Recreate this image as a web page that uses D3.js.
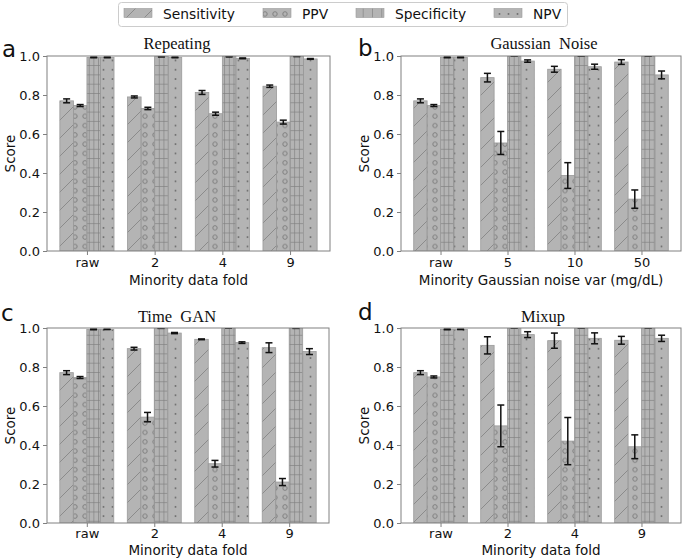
<!DOCTYPE html>
<html><head><meta charset="utf-8">
<script src="https://cdn.jsdelivr.net/npm/d3@7"></script>
<style>body{margin:0;background:#fff} svg{display:block}</style>
</head><body><svg id="chart" width="685" height="559"></svg>
<script>
// ---------- data ----------
const seriesNames = ["Sensitivity", "PPV", "Specificity", "NPV"];
const foldCategories = ["raw", "2", "4", "9"];
const noiseCategories = ["raw", "5", "10", "50"];
const yTickValues = [0, 0.2, 0.4, 0.6, 0.8, 1.0];

// a: Repeating
const repeatingSens = [0.770, 0.790, 0.813, 0.845];
const repeatingSensErr = [0.010, 0.005, 0.010, 0.006];
const repeatingPPV = [0.746, 0.731, 0.704, 0.661];
const repeatingPPVErr = [0.005, 0.006, 0.008, 0.010];
const repeatingSpec = [0.993, 0.997, 0.997, 0.999];
const repeatingSpecErr = [0.002, 0.002, 0.002, 0.002];
const repeatingNPV = [0.993, 0.993, 0.988, 0.985];
const repeatingNPVErr = [0.002, 0.002, 0.002, 0.002];

// b: Gaussian Noise
const gaussSens = [0.770, 0.889, 0.932, 0.969];
const gaussSensErr = [0.010, 0.022, 0.015, 0.012];
const gaussPPV = [0.746, 0.554, 0.387, 0.266];
const gaussPPVErr = [0.005, 0.059, 0.066, 0.047];
const gaussSpec = [0.993, 1.000, 1.000, 1.000];
const gaussSpecErr = [0.002, 0.001, 0.001, 0.001];
const gaussNPV = [0.993, 0.974, 0.945, 0.903];
const gaussNPVErr = [0.002, 0.006, 0.013, 0.020];

// c: Time GAN
const ganSens = [0.771, 0.894, 0.942, 0.899];
const ganSensErr = [0.010, 0.007, 0.002, 0.025];
const ganPPV = [0.746, 0.543, 0.304, 0.210];
const ganPPVErr = [0.005, 0.024, 0.017, 0.018];
const ganSpec = [0.993, 0.999, 1.000, 0.999];
const ganSpecErr = [0.002, 0.001, 0.001, 0.001];
const ganNPV = [0.993, 0.974, 0.925, 0.879];
const ganNPVErr = [0.001, 0.003, 0.004, 0.015];

// d: Mixup
const mixSens = [0.771, 0.911, 0.935, 0.937];
const mixSensErr = [0.010, 0.044, 0.039, 0.020];
const mixPPV = [0.749, 0.498, 0.420, 0.391];
const mixPPVErr = [0.005, 0.107, 0.121, 0.061];
const mixSpec = [0.993, 1.000, 1.000, 1.000];
const mixSpecErr = [0.002, 0.001, 0.001, 0.001];
const mixNPV = [0.993, 0.966, 0.947, 0.947];
const mixNPVErr = [0.001, 0.015, 0.028, 0.016];

// ---------- layout ----------
const panels = [
  { letter: "a", title: "Repeating", xlabel: "Minority data fold", cats: foldCategories,
    values: [repeatingSens, repeatingPPV, repeatingSpec, repeatingNPV],
    errors: [repeatingSensErr, repeatingPPVErr, repeatingSpecErr, repeatingNPVErr],
    L: 47, R: 330, T: 56, B: 251, titleX: 177, titleY: 49, letterX: 2, letterY: 57, ylabX: 15, xtickY: 267, xlabY: 285 },
  { letter: "b", title: "Gaussian  Noise", xlabel: "Minority Gaussian noise var (mg/dL)", cats: noiseCategories,
    values: [gaussSens, gaussPPV, gaussSpec, gaussNPV],
    errors: [gaussSensErr, gaussPPVErr, gaussSpecErr, gaussNPVErr],
    L: 401, R: 681, T: 56, B: 251, titleX: 544, titleY: 49, letterX: 358, letterY: 56, ylabX: 369, xtickY: 267, xlabY: 285 },
  { letter: "c", title: "Time  GAN", xlabel: "Minority data fold", cats: foldCategories,
    values: [ganSens, ganPPV, ganSpec, ganNPV],
    errors: [ganSensErr, ganPPVErr, ganSpecErr, ganNPVErr],
    L: 47, R: 329, T: 328, B: 523, titleX: 177, titleY: 322, letterX: 1, letterY: 321, ylabX: 15, xtickY: 538, xlabY: 555 },
  { letter: "d", title: "Mixup", xlabel: "Minority data fold", cats: foldCategories,
    values: [mixSens, mixPPV, mixSpec, mixNPV],
    errors: [mixSensErr, mixPPVErr, mixSpecErr, mixNPVErr],
    L: 401, R: 681, T: 328, B: 523, titleX: 543, titleY: 322, letterX: 358, letterY: 320, ylabX: 369, xtickY: 538, xlabY: 555 }
];

const barFill = "#b4b4b4";
const hatchCol = "#808080";
const edgeCol = "#9a9a9a";
const sansFont = "'DejaVu Sans', sans-serif";
const serifFont = "'Liberation Serif', 'Times New Roman', serif";

const svg = d3.select("#chart");
const defs = svg.append("defs");

// hatch patterns
function pattern(id, w, h) {
  return defs.append("pattern").attr("id", id).attr("patternUnits", "userSpaceOnUse")
    .attr("width", w).attr("height", h);
}
pattern("pat0", 18, 18).append("path")
  .attr("d", "M0,18 L18,0 M-4.5,4.5 L4.5,-4.5 M13.5,22.5 L22.5,13.5")
  .attr("stroke", hatchCol).attr("stroke-width", 0.8).attr("fill", "none");
pattern("pat1", 10, 9.3).append("circle").attr("cx", 5).attr("cy", 4.65).attr("r", 2.2)
  .attr("stroke", "#7a7a7a").attr("stroke-width", 0.9).attr("fill", "none");
pattern("pat2", 4.67, 9.3).append("path").attr("d", "M0.3,0 V9.3 M0,0.3 H4.67")
  .attr("stroke", hatchCol).attr("stroke-width", 0.8).attr("fill", "none");
pattern("pat3", 9, 9.3).append("circle").attr("cx", 4.5).attr("cy", 4.65).attr("r", 1)
  .attr("fill", "#6e6e6e");
// legend variant
pattern("lpat2", 9.3, 9.3).append("path").attr("d", "M0.3,0 V9.3")
  .attr("stroke", hatchCol).attr("stroke-width", 0.8).attr("fill", "none");

const barPatterns = ["pat0", "pat1", "pat2", "pat3"];
const legendPatterns = ["pat0", "pat1", "lpat2", "pat3"];

const barWidth = 0.2;

panels.forEach((p, pi) => {
  const x = d3.scaleLinear().domain([-0.59, 3.59]).range([p.L, p.R]);
  const y = d3.scaleLinear().domain([0, 1]).range([p.B, p.T]);
  const g = svg.append("g");

  defs.append("clipPath").attr("id", "clip" + pi).append("rect")
    .attr("x", p.L).attr("y", p.T).attr("width", p.R - p.L).attr("height", p.B - p.T);

  const plot = g.append("g").attr("clip-path", `url(#clip${pi})`);

  const bars = [];
  p.values.forEach((vals, si) => {
    vals.forEach((v, ci) => {
      bars.push({ si, ci, v, e: p.errors[si][ci] });
    });
  });

  const bx = d => x(d.ci + (d.si - 1.5) * barWidth - barWidth / 2);
  const bw = x(barWidth) - x(0);

  plot.selectAll("rect.fill").data(bars).join("rect").attr("class", "fill")
    .attr("x", bx).attr("y", d => y(d.v)).attr("width", bw).attr("height", d => y(0) - y(d.v))
    .attr("fill", barFill);
  plot.selectAll("rect.hatch").data(bars).join("rect").attr("class", "hatch")
    .attr("x", bx).attr("y", d => y(d.v)).attr("width", bw).attr("height", d => y(0) - y(d.v))
    .attr("fill", d => `url(#${barPatterns[d.si]})`)
    .attr("stroke", edgeCol).attr("stroke-width", 0.8);

  // error bars
  const cx = d => x(d.ci + (d.si - 1.5) * barWidth);
  const eb = plot.selectAll("g.err").data(bars).join("g").attr("class", "err")
    .attr("stroke", "#111").attr("stroke-width", 1.5);
  eb.append("line").attr("x1", cx).attr("x2", cx)
    .attr("y1", d => y(d.v - d.e)).attr("y2", d => y(d.v + d.e));
  eb.append("line").attr("x1", d => cx(d) - 3.5).attr("x2", d => cx(d) + 3.5)
    .attr("y1", d => y(d.v - d.e)).attr("y2", d => y(d.v - d.e));
  eb.append("line").attr("x1", d => cx(d) - 3.5).attr("x2", d => cx(d) + 3.5)
    .attr("y1", d => y(d.v + d.e)).attr("y2", d => y(d.v + d.e));

  // axes
  const yAxis = g.append("g").attr("transform", `translate(${p.L},0)`)
    .call(d3.axisLeft(y).tickValues(yTickValues).tickFormat(d3.format(".1f")).tickSize(4).tickPadding(3));
  const xAxis = g.append("g").attr("transform", `translate(0,${p.B})`)
    .call(d3.axisBottom(x).tickValues([0, 1, 2, 3]).tickFormat(i => p.cats[i]).tickSize(4).tickPadding(3));
  [yAxis, xAxis].forEach(a => {
    a.select(".domain").remove();
    a.selectAll(".tick line").attr("stroke", "#808080");
    a.selectAll(".tick text").attr("font-family", sansFont).attr("font-size", 13).attr("fill", "#111");
  });
  xAxis.selectAll(".tick text").attr("dy", null).attr("y", p.xtickY - p.B).attr("dominant-baseline", "auto");

  // spines
  g.append("rect").attr("x", p.L).attr("y", p.T).attr("width", p.R - p.L).attr("height", p.B - p.T)
    .attr("fill", "none").attr("stroke", "#808080").attr("stroke-width", 1);

  // labels
  g.append("text").attr("x", p.titleX).attr("y", p.titleY).attr("text-anchor", "middle")
    .attr("font-family", serifFont).attr("font-size", 16.5).attr("fill", "#111")
    .style("white-space", "pre").text(p.title);
  g.append("text").attr("x", p.letterX).attr("y", p.letterY)
    .attr("font-family", sansFont).attr("font-size", 23).attr("fill", "#111").text(p.letter);
  g.append("text").attr("transform", `translate(${p.ylabX},${(p.T + p.B) / 2}) rotate(-90)`)
    .attr("text-anchor", "middle").attr("font-family", sansFont).attr("font-size", 13.5).attr("fill", "#111")
    .text("Score");
  g.append("text").attr("x", (p.L + p.R) / 2).attr("y", p.xlabY).attr("text-anchor", "middle")
    .attr("font-family", sansFont).attr("font-size", 13.5).attr("fill", "#111").text(p.xlabel);
});

// legend
const leg = svg.append("g");
leg.append("rect").attr("x", 118.5).attr("y", 2.5).attr("width", 449).attr("height", 24)
  .attr("rx", 3).attr("fill", "#fff").attr("stroke", "#cccccc");
const legX = [124, 263, 356, 494];
seriesNames.forEach((name, i) => {
  leg.append("rect").attr("x", legX[i]).attr("y", 8.5).attr("width", 28).attr("height", 9).attr("fill", barFill);
  leg.append("rect").attr("x", legX[i]).attr("y", 8.5).attr("width", 28).attr("height", 9)
    .attr("fill", `url(#${legendPatterns[i]})`).attr("stroke", edgeCol).attr("stroke-width", 0.6);
  leg.append("text").attr("x", legX[i] + 39).attr("y", 18.5)
    .attr("font-family", sansFont).attr("font-size", 13.8).attr("fill", "#111").text(name);
});
</script>
</body></html>
